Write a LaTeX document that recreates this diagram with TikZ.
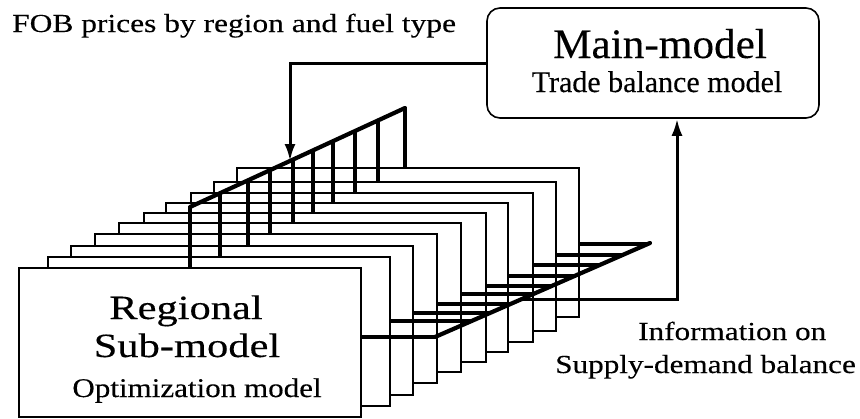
\documentclass[tikz,border=0pt]{standalone}
\usepackage{fontspec}
\setmainfont{Liberation Serif}[FakeBold=0.25]
\usetikzlibrary{arrows.meta,calc}
% horizontally widened text
\newcommand{\wide}[2]{\scalebox{#1}[1]{#2}}

\begin{document}
\begin{tikzpicture}[x=1pt,y=-1pt,
  panel/.style={draw=black, fill=white, line width=1.5pt, minimum width=342pt,
    minimum height=149pt, anchor=north west, inner sep=0pt, outer sep=0pt},
  mainbox/.style={draw=black, fill=white, line width=1.6pt, rounded corners=13pt,
    minimum width=332pt, minimum height=110pt, inner sep=0pt},
  rake/.style={line width=3.4pt},
  spine/.style={line width=4.2pt, line cap=round},
  flow/.style={line width=3pt, -{Latex[length=17pt,width=11pt]}},
  txt/.style={inner sep=0pt, anchor=base},
]
\useasboundingbox (0,0) rectangle (860,418);

% stack of regional sub-model panels, back to front
\foreach \k/\l/\t in {9/237/168,8/214/182,7/191/193,6/166/203,5/144/213,
                      4/119/223,3/95/234,2/71/246,1/48/257,0/19/268}
  \node[panel] (p\k) at (\l,\t) {};

% main model
\node[mainbox] (main) at (653,63) {};
\node[txt] (mtitle) at (660,58) {\fontsize{42}{46}\selectfont\wide{1.03}{Main-model}};
\node[txt] (msub) at (657,92) {\fontsize{30}{34}\selectfont Trade balance model};

% upper distribution rake: prices sent down to every panel
\coordinate (ua) at (190,207);
\coordinate (ub) at (405,108);
\foreach \k/\x in {0/190,1/220,2/248,3/270,4/293,5/313,6/333,7/355,8/378,9/405}{
  \pgfmathsetmacro{\yy}{207-(\x-190)/215*99}
  \coordinate (u\k) at (\x,\yy);
  \draw[rake] (u\k |- p\k.north) -- (u\k);
}
\draw[spine] (ua) -- (ub);

% lower collection rake: results gathered from every panel
\coordinate (la) at (435,337);
\coordinate (lb) at (650,243);
\foreach \k/\y in {0/337,1/321,2/313,3/304,4/294,5/286,6/276,7/265,8/255,9/244}{
  \pgfmathsetmacro{\xx}{435+(337-\y)/94*215}
  \coordinate (l\k) at (\xx,\y);
  \draw[rake] (p\k.east |- l\k) -- (l\k);
}
\draw[spine] (la) -- (lb);

% arrows between the models
\coordinate (fobtip) at (290,161);
\draw[flow] (main.west) -| (fobtip);
\coordinate (outs) at (522,299);
\coordinate (outb) at (677,299);
\draw[flow] (outs) -- (outb) -- (outb |- main.south);

% labels
\node[txt, anchor=base west] (fob) at (12,32)
  {\fontsize{26}{30}\selectfont\wide{1.21}{FOB prices by region and fuel type}};
\node[txt] (reg1) at (186,319) {\fontsize{34}{38}\selectfont\wide{1.25}{Regional}};
\node[txt] (reg2) at (187,357) {\fontsize{34}{38}\selectfont\wide{1.25}{Sub-model}};
\node[txt] (reg3) at (197,397) {\fontsize{27}{30}\selectfont\wide{1.15}{Optimization model}};
\node[txt, anchor=base west] (inf1) at (638,340)
  {\fontsize{26}{30}\selectfont\wide{1.2}{Information on}};
\node[txt, anchor=base west] (inf2) at (555,373)
  {\fontsize{26}{30}\selectfont\wide{1.2}{Supply-demand balance}};
\end{tikzpicture}
\end{document}
